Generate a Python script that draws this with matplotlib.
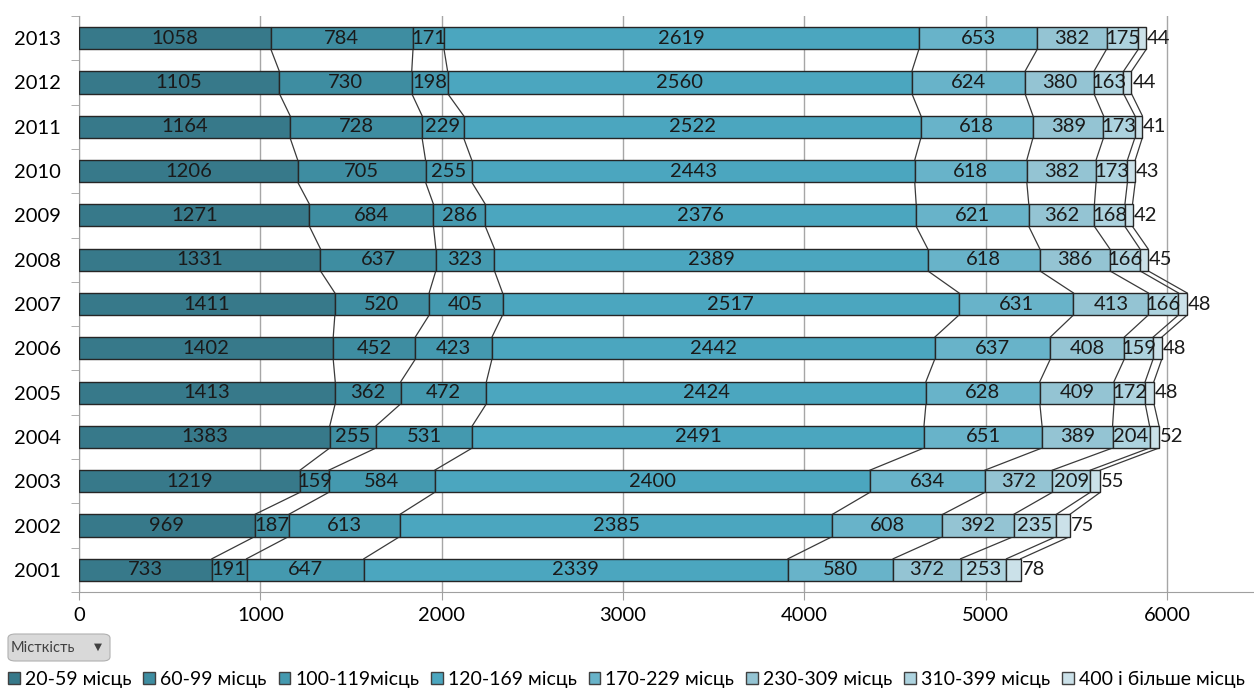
import matplotlib
matplotlib.use("Agg")
import matplotlib.pyplot as plt
from matplotlib.patches import FancyBboxPatch, Rectangle
import numpy as np

plt.rcParams['font.family'] = ['Lato', 'Open Sans', 'DejaVu Sans']

years = ['2001', '2002', '2003', '2004', '2005', '2006', '2007',
         '2008', '2009', '2010', '2011', '2012', '2013']
series_names = ['20-59 місць', '60-99 місць', '100-119місць', '120-169 місць',
                '170-229 місць', '230-309 місць', '310-399 місць', '400 і більше місць']

s_20_59 = [733, 969, 1219, 1383, 1413, 1402, 1411, 1331, 1271, 1206, 1164, 1105, 1058]
s_60_99 = [191, 187, 159, 255, 362, 452, 520, 637, 684, 705, 728, 730, 784]
s_100_119 = [647, 613, 584, 531, 472, 423, 405, 323, 286, 255, 229, 198, 171]
s_120_169 = [2339, 2385, 2400, 2491, 2424, 2442, 2517, 2389, 2376, 2443, 2522, 2560, 2619]
s_170_229 = [580, 608, 634, 651, 628, 637, 631, 618, 621, 618, 618, 624, 653]
s_230_309 = [372, 392, 372, 389, 409, 408, 413, 386, 362, 382, 389, 380, 382]
s_310_399 = [253, 235, 209, 204, 172, 159, 166, 166, 168, 173, 173, 163, 175]
s_400_plus = [78, 75, 55, 52, 48, 48, 48, 45, 42, 43, 41, 44, 44]

series = [s_20_59, s_60_99, s_100_119, s_120_169, s_170_229, s_230_309, s_310_399, s_400_plus]
colors = ['#37798A', '#3E8DA1', '#4499AF', '#4BA6BF', '#68B3C9', '#94C4D3', '#ADD3DF', '#CBE1E9']

LBL = 14.5

fig = plt.figure(figsize=(12.54, 6.88), dpi=100)
ax = fig.add_axes([79/1254, 1 - 592/688, 1 - 79/1254, (592 - 16)/688])

y = np.arange(len(years))
h = 0.5
left = np.zeros(len(years))
bounds = []
for i, (vals, col) in enumerate(zip(series, colors)):
    vals = np.array(vals, dtype=float)
    ax.barh(y, vals, left=left, height=h, color=col, edgecolor='#262626',
            linewidth=1.0, zorder=3)
    last = (i == len(series) - 1)
    for yi, (l, v) in enumerate(zip(left, vals)):
        if last:
            ax.text(l + v + 5, yi, f'{int(v)}', ha='left', va='center',
                    fontsize=LBL, color='#1a1a1a', zorder=5)
        else:
            ax.text(l + v / 2, yi, f'{int(v)}', ha='center', va='center',
                    fontsize=LBL, color='#1a1a1a', zorder=5)
    left = left + vals
    bounds.append(left.copy())

# series lines
for b in bounds:
    for yi in range(len(years) - 1):
        ax.plot([b[yi], b[yi + 1]], [yi + h / 2, yi + 1 - h / 2],
                color='#3a3a3a', linewidth=0.9, zorder=2)

ax.set_xlim(0, 6480)
ax.set_ylim(-0.5, len(years) - 0.5)
ax.set_xticks([0, 1000, 2000, 3000, 4000, 5000, 6000])
ax.set_xticklabels(['0', '1000', '2000', '3000', '4000', '5000', '6000'], fontsize=14.5)
ax.set_yticks(y)
ax.set_yticklabels(years, fontsize=14.5)
ax.set_yticks(np.arange(-0.5, len(years), 1), minor=True)
ax.tick_params(axis='y', which='major', length=0, pad=13)
ax.tick_params(axis='y', which='minor', length=6, color='#a0a0a0', direction='out')
ax.tick_params(axis='x', which='major', length=6, color='#a0a0a0', direction='out', pad=5)
ax.grid(axis='x', color='#a6a6a6', linewidth=1.0, zorder=0)
for s in ['top', 'right']:
    ax.spines[s].set_visible(False)
ax.spines['left'].set_color('#a0a0a0')
ax.spines['bottom'].set_color('#a0a0a0')

# filter button
btn = FancyBboxPatch((8/1254, 1 - 661/688), 102/1254, 27/688,
                     boxstyle='round,pad=0,rounding_size=0.006',
                     transform=fig.transFigure, facecolor='#d9d9d9',
                     edgecolor='#b0b0b0', linewidth=0.8)
fig.patches.append(btn)
fig.text(11/1254, 1 - 648/688, 'Місткість', fontsize=10.5, color='#404040',
         va='center', ha='left')
fig.text(98/1254, 1 - 647/688, '▼', fontsize=7.5, color='#404040',
         va='center', ha='center', family='DejaVu Sans')

# legend
handles = [Rectangle((0, 0), 1, 1, facecolor=c, edgecolor='#404040', linewidth=1.0)
           for c in colors]
fig.legend(handles, series_names, loc='center left', bbox_to_anchor=(0.005, 1 - 679/688),
           ncol=8, frameon=False, fontsize=14, handlelength=0.6, handleheight=0.6,
           handletextpad=0.25, columnspacing=0.62, borderaxespad=0, borderpad=0.1)

fig.savefig('out.png', dpi=100)
